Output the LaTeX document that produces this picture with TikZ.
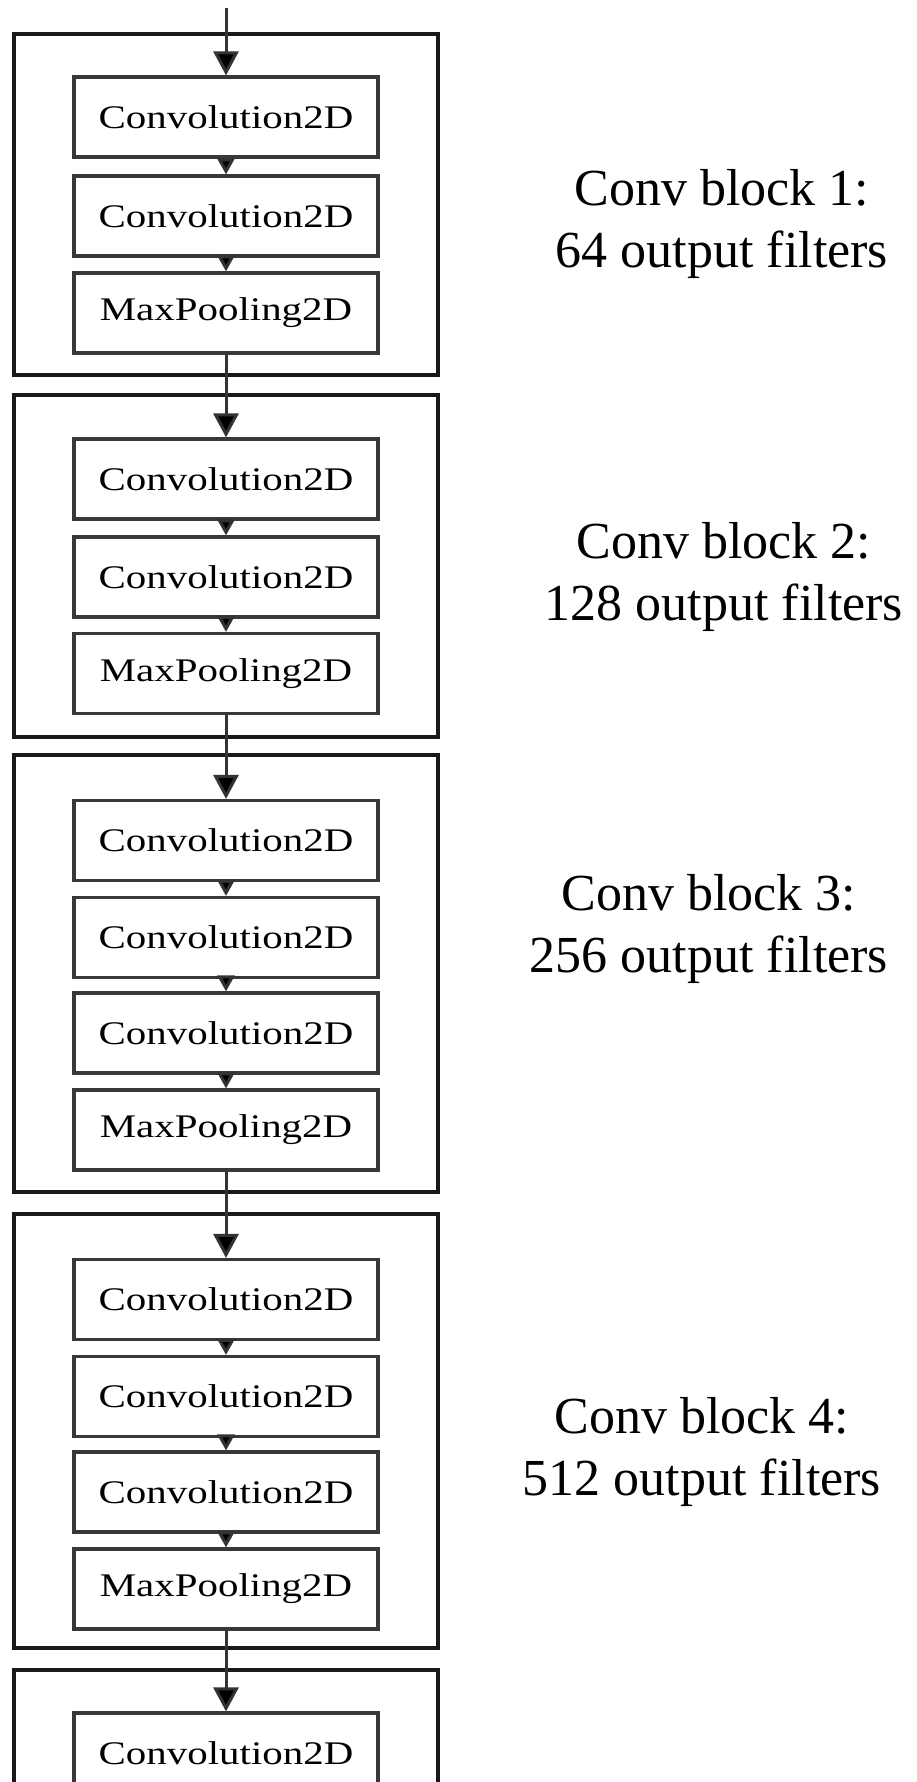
\documentclass[tikz,border=0pt]{standalone}
\usepackage{fontspec}
\setmainfont{Liberation Serif}
\newfontfamily\boxfont[FakeStretch=1.24]{Liberation Serif}
\usetikzlibrary{arrows.meta}
\begin{document}
\begin{tikzpicture}[x=0.5pt,y=-0.5pt,
  block/.style={draw=black!90, line width=2pt, minimum width=212pt, inner sep=0pt},
  layer/.style={draw=black!78, line width=1.6pt, minimum width=152pt, minimum height=40pt,
    inner sep=0pt, fill=white, font=\boxfont\fontsize{16.5}{18}\selectfont},
  bigarrow/.style={draw=black!80, line width=1.5pt, -{Triangle[width=12.5pt,length=12pt,fill=black]}},
  smallarrow/.style={draw=black!80, line width=1.5pt, -{Triangle[width=8.5pt,length=8pt,fill=black]}},
  blocklabel/.style={font=\fontsize{26}{31}\selectfont, align=center, anchor=base}]
\fill[white] (0,0) rectangle (916,1782);
\useasboundingbox (0,0) rectangle (916,1782);
% outer blocks
\node[block, minimum height=170.5pt] (B1) at (226,204.5) {};
\node[block, minimum height=171pt] (B2) at (226,566) {};
\node[block, minimum height=218.5pt] (B3) at (226,973.5) {};
\node[block, minimum height=217pt] (B4) at (226,1431) {};
\node[block, minimum height=115pt] (B5) at (226,1785) {};
% layers block 1
\node[layer] (c11) at (226,117) {Convolution2D};
\node[layer] (c12) at (226,216) {Convolution2D};
\node[layer] (m1) at (226,313) {MaxPooling2D};
% block 2
\node[layer] (c21) at (226,479) {Convolution2D};
\node[layer] (c22) at (226,577) {Convolution2D};
\node[layer] (m2) at (226,673.5) {MaxPooling2D};
% block 3
\node[layer] (c31) at (226,840.5) {Convolution2D};
\node[layer] (c32) at (226,937.5) {Convolution2D};
\node[layer] (c33) at (226,1033) {Convolution2D};
\node[layer] (m3) at (226,1130) {MaxPooling2D};
% block 4
\node[layer] (c41) at (226,1299.5) {Convolution2D};
\node[layer] (c42) at (226,1396.5) {Convolution2D};
\node[layer] (c43) at (226,1492) {Convolution2D};
\node[layer] (m4) at (226,1589) {MaxPooling2D};
% block 5
\node[layer] (c51) at (226,1753) {Convolution2D};
% connectors
\coordinate (in) at (226,8);
\draw[bigarrow] (in) -- (c11);
\draw[smallarrow] (c11) -- (c12);
\draw[smallarrow] (c12) -- (m1);
\draw[bigarrow] (m1) -- (c21);
\draw[smallarrow] (c21) -- (c22);
\draw[smallarrow] (c22) -- (m2);
\draw[bigarrow] (m2) -- (c31);
\draw[smallarrow] (c31) -- (c32);
\draw[smallarrow] (c32) -- (c33);
\draw[smallarrow] (c33) -- (m3);
\draw[bigarrow] (m3) -- (c41);
\draw[smallarrow] (c41) -- (c42);
\draw[smallarrow] (c42) -- (c43);
\draw[smallarrow] (c43) -- (m4);
\draw[bigarrow] (m4) -- (c51);
% labels (anchor base = baseline of last line)
\node[blocklabel] (L1) at (722,267) {Conv block 1:\\64 output filters};
\node[blocklabel] (L2) at (724,620) {Conv block 2:\\128 output filters};
\node[blocklabel] (L3) at (709,972) {Conv block 3:\\256 output filters};
\node[blocklabel] (L4) at (702,1495) {Conv block 4:\\512 output filters};
\end{tikzpicture}
\end{document}
